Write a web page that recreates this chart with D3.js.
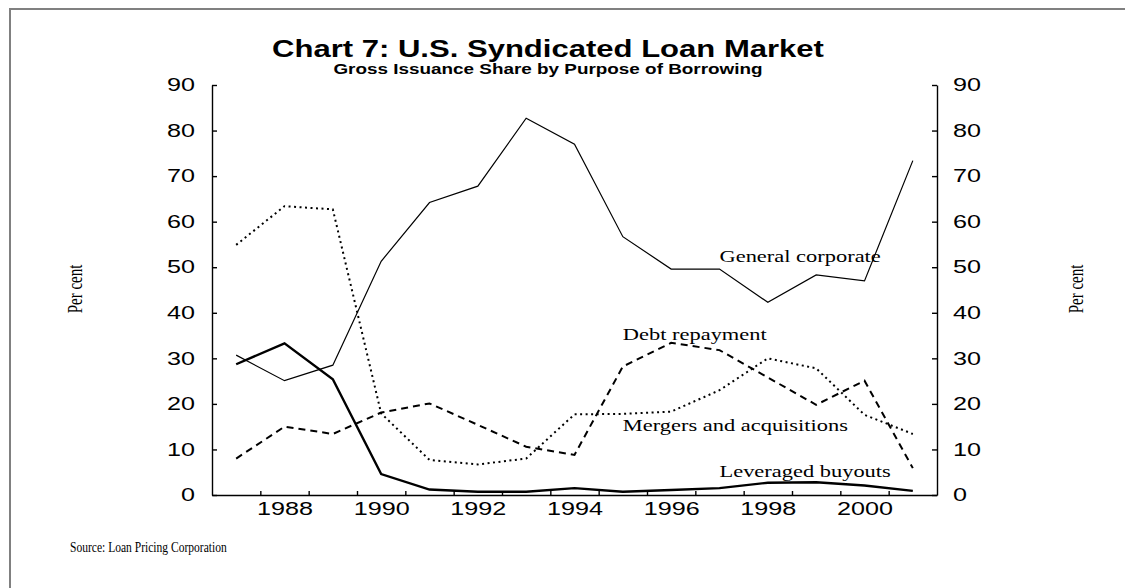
<!DOCTYPE html>
<html>
<head>
<meta charset="utf-8">
<script src="https://cdn.jsdelivr.net/npm/d3@7"></script>
<style>
body { margin: 0; background: #fff; }
</style>
</head>
<body>
<div id="chart"></div>
<script>
// values, per cent of gross issuance
var years = [1987, 1988, 1989, 1990, 1991, 1992, 1993, 1994, 1995, 1996, 1997, 1998, 1999, 2000, 2001]
var generalCorporate = [30.7, 25.1, 28.5, 51.3, 64.2, 67.8, 82.7, 77.0, 56.7, 49.6, 49.6, 42.3, 48.3, 47.0, 73.4]
var leveragedBuyouts = [28.7, 33.3, 25.4, 4.6, 1.2, 0.7, 0.7, 1.5, 0.7, 1.1, 1.5, 2.7, 2.8, 2.1, 0.9]
var debtRepayment = [8.0, 15.0, 13.4, 18.1, 20.1, 15.4, 10.6, 8.8, 28.2, 33.4, 31.8, 25.8, 19.8, 25.1, 5.9]
var mergers = [54.9, 63.4, 62.7, 17.9, 7.7, 6.7, 8.0, 17.7, 17.8, 18.3, 23.0, 30.0, 27.8, 17.6, 13.4]

var percentTicks = [0, 10, 20, 30, 40, 50, 60, 70, 80, 90]
var yearLabels = [1988, 1990, 1992, 1994, 1996, 1998, 2000]
// small ticks sit between the years
var yearTicks = [1987.5, 1988.5, 1989.5, 1990.5, 1991.5, 1992.5, 1993.5, 1994.5, 1995.5, 1996.5, 1997.5, 1998.5, 1999.5, 2000.5]

// series name, year and value where each name is written
var seriesNames = ["General corporate", "Debt repayment", "Mergers and acquisitions", "Leveraged buyouts"]
var nameYears = [1997, 1995, 1995, 1997]
var nameValues = [51.2, 34.0, 14.0, 4.0]

var width = 1125
    height = 588
// the original picture was widened, so most of the text is stretched sideways
var k = 1.4

var svg = d3.select("#chart")
  .append("svg")
    .attr("width", width)
    .attr("height", height)

// grey frame, runs off the right and bottom edge
svg.append("rect")
  .attr("x", 10)
  .attr("y", 9)
  .attr("width", 1200)
  .attr("height", 700)
  .attr("fill", "none")
  .attr("stroke", "#808080")
  .attr("stroke-width", 2)

var x = d3.scaleLinear().domain([1986.5, 2001.5]).range([212, 937])
var y = d3.scaleLinear().domain([0, 90]).range([495, 85])

function squash(sel, f) {
  sel.each(function() {
    var t = d3.select(this)
    t.attr("x", (+t.attr("x") || 0) / f)
     .attr("transform", "scale(" + f + ",1)")
  })
}

function label(txt, px, py, f) {
  return svg.append("text")
    .attr("transform", "translate(" + px + "," + py + ") scale(" + f + ",1)")
    .text(txt)
}

// titles
label("Chart 7: U.S. Syndicated Loan Market", 548, 57, 1.35)
  .attr("text-anchor", "middle")
  .style("font-family", "'Liberation Sans', Arial, sans-serif")
  .style("font-weight", "bold")
  .style("font-size", "23px")
label("Gross Issuance Share by Purpose of Borrowing", 548, 74, 1.26)
  .attr("text-anchor", "middle")
  .style("font-family", "'Liberation Sans', Arial, sans-serif")
  .style("font-weight", "bold")
  .style("font-size", "15px")

// axes
var tickFont = "'Liberation Sans', Arial, sans-serif"
var left = svg.append("g")
  .attr("transform", "translate(" + x.range()[0] + ",0)")
  .call(d3.axisLeft(y).tickValues(percentTicks).tickSizeInner(-5).tickSizeOuter(0).tickPadding(17))
var right = svg.append("g")
  .attr("transform", "translate(" + x.range()[1] + ",0)")
  .call(d3.axisRight(y).tickValues(percentTicks).tickSizeInner(-5).tickSizeOuter(0).tickPadding(16))
var bottom = svg.append("g")
  .attr("transform", "translate(0," + y(0) + ")")
  .call(d3.axisBottom(x).tickValues(yearTicks).tickFormat("").tickSizeInner(-4).tickSizeOuter(0))
var yearAxis = svg.append("g")
  .attr("transform", "translate(0," + y(0) + ")")
  .call(d3.axisBottom(x).tickValues(yearLabels).tickFormat(d3.format("d")).tickSize(0).tickPadding(7))
yearAxis.select(".domain").remove()
yearAxis.selectAll("line").remove()

;[left, right, bottom, yearAxis].forEach(function(g) {
  g.attr("font-family", tickFont).attr("font-size", 18)
  g.selectAll(".domain, line").attr("stroke", "#000").attr("stroke-width", 1.4)
  g.selectAll("text").attr("fill", "#000")
  squash(g.selectAll("text"), k)
})

// Per cent on both sides
;[82, 1083].forEach(function(px) {
  svg.append("text")
    .attr("transform", "translate(" + px + ",289) scale(" + k + ",1) rotate(-90)")
    .attr("text-anchor", "middle")
    .style("font-family", "'Liberation Serif', 'Times New Roman', serif")
    .style("font-size", "15px")
    .text("Per cent")
})

// lines
var line = d3.line()
  .x(function(d) { return x(d[0]) })
  .y(function(d) { return y(d[1]) })

var series = [
  { values: mergers, width: 2, dash: "2,3.5" },
  { values: debtRepayment, width: 2, dash: "7,5" },
  { values: generalCorporate, width: 1.2, dash: null },
  { values: leveragedBuyouts, width: 2.4, dash: null }
]
series.forEach(function(s) {
  svg.append("path")
    .datum(d3.zip(years, s.values))
    .attr("d", line)
    .attr("fill", "none")
    .attr("stroke", "#000")
    .attr("stroke-width", s.width)
    .attr("stroke-dasharray", s.dash)
})

// series names
seriesNames.forEach(function(n, i) {
  label(n, x(nameYears[i]), y(nameValues[i]), 1.36)
    .style("font-family", "'Liberation Serif', 'Times New Roman', serif")
    .style("font-size", "16.5px")
})

label("Source: Loan Pricing Corporation", 70, 552, 0.77)
  .style("font-family", "'Liberation Serif', 'Times New Roman', serif")
  .style("font-size", "15px")
</script>
</body>
</html>
